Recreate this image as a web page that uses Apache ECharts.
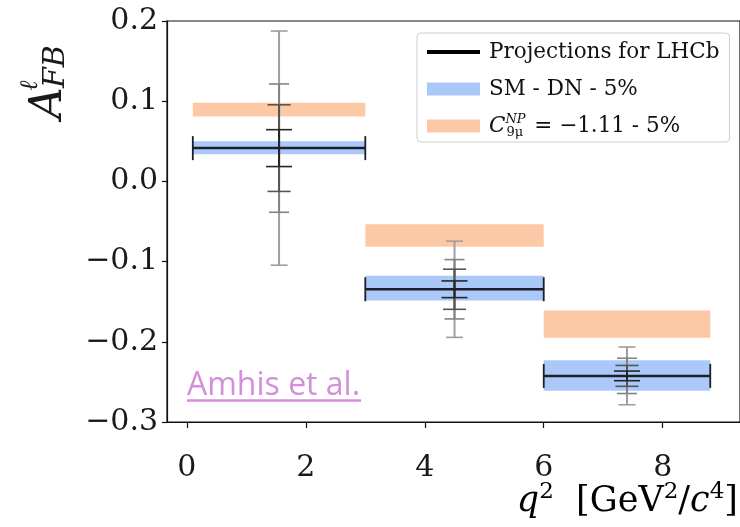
<!DOCTYPE html>
<html>
<head>
<meta charset="utf-8">
<script src="https://cdn.jsdelivr.net/npm/echarts@6/dist/echarts.min.js"></script>
<style>
  html, body { margin: 0; padding: 0; background: #fff; }
  #chart { width: 740px; height: 527px; }
</style>
</head>
<body>
<div id="chart"></div>
<script>
// q^2 bins [GeV^2/c^4]
const binLow = [0.1, 3.0, 6.0];
const binHigh = [3.0, 6.0, 8.8];

// SM (DN form factors) band: centre and half-width
const smCentre = [0.042, -0.133, -0.242];
const smHalf = [0.008, 0.0155, 0.019];

// New physics band, C9mu = -1.11: centre and half-width
const npCentre = [0.0895, -0.0675, -0.178];
const npHalf = [0.0085, 0.014, 0.017];

// LHCb projections: point position, central value and the
// uncertainties of four luminosity scenarios (largest first)
const projX = [1.55, 4.5, 7.4];
const projCentre = [0.0415, -0.1345, -0.2425];
const projErr1 = [0.146, 0.060, 0.036];
const projErr2 = [0.080, 0.037, 0.022];
const projErr3 = [0.054, 0.025, 0.013];
const projErr4 = [0.023, 0.0104, 0.006];

// axis ticks
const xTicks = [0, 2, 4, 6, 8];
const yTicks = [-0.3, -0.2, -0.1, 0.0, 0.1, 0.2];

const SERIF = 'DejaVu Serif';
const NAME_PROJ = 'Projections for LHCb';
const NAME_SM = 'SM - DN - 5%';
const NAME_NP = 'C9muNP = -1.11 - 5%';

const BLUE = '#aac8f8';
const ORANGE = '#fdc8a6';
const DARK = '#1c1e2a';
const errColors = ['#9e9e9e', '#838383', '#555555', '#262626'];
const capWidth = [17, 20, 23, 26];

function bandSeries(name, lo, hi, centre, half, color) {
  return {
    type: 'custom',
    name: name,
    z: 2,
    silent: true,
    itemStyle: { color: color },
    data: lo.map((l, i) => [l, hi[i], centre[i], half[i]]),
    encode: { x: [0, 1], y: [2] },
    renderItem: function (params, api) {
      const a = api.coord([api.value(0), api.value(2) + api.value(3)]);
      const b = api.coord([api.value(1), api.value(2) - api.value(3)]);
      return {
        type: 'rect',
        shape: { x: a[0], y: a[1], width: b[0] - a[0], height: b[1] - a[1] },
        style: { fill: color }
      };
    }
  };
}

const series = [
  bandSeries(NAME_SM, binLow, binHigh, smCentre, smHalf, BLUE),
  bandSeries(NAME_NP, binLow, binHigh, npCentre, npHalf, ORANGE),
  {
    // vertical error bars, outermost first so inner ones sit on top
    type: 'custom',
    name: 'proj-errors',
    z: 3,
    silent: true,
    data: projX.map((x, i) => [x, projCentre[i], projErr1[i], projErr2[i], projErr3[i], projErr4[i]]),
    encode: { x: 0, y: [1] },
    renderItem: function (params, api) {
      const x = api.value(0), c = api.value(1);
      const children = [];
      for (let k = 0; k < 4; k++) {
        const e = api.value(2 + k);
        const top = api.coord([x, c + e]);
        const bot = api.coord([x, c - e]);
        children.push({
          type: 'line',
          shape: { x1: top[0], y1: top[1], x2: bot[0], y2: bot[1] },
          style: { stroke: errColors[k], lineWidth: 2 }
        });
        [top, bot].forEach(p => children.push({
          type: 'line',
          shape: { x1: p[0] - capWidth[k] / 2, y1: p[1], x2: p[0] + capWidth[k] / 2, y2: p[1] },
          style: { stroke: errColors[k], lineWidth: 1.6 }
        }));
      }
      return { type: 'group', children: children };
    }
  },
  {
    // end caps of the horizontal bin bars
    type: 'custom',
    name: 'proj-caps',
    z: 4,
    silent: true,
    data: binLow.map((l, i) => [l, binHigh[i], projCentre[i]]),
    encode: { x: [0, 1], y: [2] },
    renderItem: function (params, api) {
      const a = api.coord([api.value(0), api.value(2)]);
      const b = api.coord([api.value(1), api.value(2)]);
      return {
        type: 'group',
        children: [a, b].map(p => ({
          type: 'line',
          shape: { x1: p[0], y1: p[1] - 12, x2: p[0], y2: p[1] + 12 },
          style: { stroke: DARK, lineWidth: 1.8 }
        }))
      };
    }
  }
];

// horizontal bin bars of the projections
binLow.forEach((l, i) => {
  series.push({
    type: 'line',
    name: NAME_PROJ,
    z: 4,
    silent: true,
    symbol: 'none',
    color: DARK,
    lineStyle: { color: DARK, width: 2.5 },
    data: [[l, projCentre[i]], [binHigh[i], projCentre[i]]]
  });
});

const chart = echarts.init(document.getElementById('chart'));
chart.setOption({
  animation: false,
  backgroundColor: '#ffffff',
  grid: {
    left: 167, top: 21, right: -4, bottom: 105,
    show: true, borderColor: '#111', borderWidth: 1.2, backgroundColor: 'transparent'
  },
  xAxis: {
    type: 'value',
    min: -0.334, max: 9.3,
    axisLine: { onZero: false, lineStyle: { color: '#111', width: 1.2 } },
    axisTick: { customValues: xTicks, length: 6, lineStyle: { color: '#111', width: 1.2 } },
    axisLabel: {
      customValues: xTicks, margin: 31,
      fontFamily: SERIF, fontSize: 30, color: '#1a1a1a',
      formatter: v => String(v)
    },
    splitLine: { show: false }
  },
  yAxis: {
    type: 'value',
    min: -0.3, max: 0.2,
    axisLine: { onZero: false, lineStyle: { color: '#111', width: 1.2 } },
    axisTick: { customValues: yTicks, length: 5, lineStyle: { color: '#111', width: 1.2 } },
    axisLabel: {
      customValues: yTicks, margin: 9,
      fontFamily: SERIF, fontSize: 30, color: '#1a1a1a',
      formatter: v => (v < -1e-9 ? '\u2212' : '') + Math.abs(v).toFixed(1)
    },
    splitLine: { show: false }
  },
  legend: {
    orient: 'vertical',
    left: 417, top: 33,
    padding: [6, 10, 3, 8],
    itemWidth: 53, itemHeight: 13, itemGap: 11,
    backgroundColor: 'rgba(255,255,255,0.85)',
    borderColor: '#cfcfcf', borderWidth: 1, borderRadius: 4,
    selectedMode: false,
    data: [
      { name: NAME_PROJ, lineStyle: { width: 4, color: '#000' }, itemStyle: { opacity: 0 } },
      { name: NAME_SM, icon: 'rect' },
      { name: NAME_NP, icon: 'rect' }
    ],
    textStyle: {
      fontFamily: SERIF, fontSize: 21.5, color: '#111', lineHeight: 26,
      padding: [0, 0, 0, 4],
      rich: {
        t: { fontFamily: SERIF, fontSize: 21.5, lineHeight: 26, color: '#111' },
        c: { fontFamily: SERIF, fontStyle: 'italic', fontSize: 21.5, lineHeight: 26, color: '#111' },
        sup: { fontFamily: SERIF, fontStyle: 'italic', fontSize: 13, lineHeight: 14, verticalAlign: 'top', width: 1, color: '#111' },
        sub: { fontFamily: SERIF, fontSize: 13, lineHeight: 14, verticalAlign: 'bottom', width: 21, color: '#111' }
      }
    },
    formatter: function (name) {
      if (name === NAME_NP) {
        return '{c|C}{sup|NP}{sub|9\u03bc}{t| = \u22121.11 - 5%}';
      }
      return '{t|' + name + '}';
    }
  },
  graphic: [
    {
      // y axis title: A^l_FB, reading bottom to top
      type: 'group',
      x: 63, y: 119,
      rotation: Math.PI / 2,
      children: [
        { type: 'text', x: 0, y: -13, style: { text: 'A', font: 'italic 44px "DejaVu Serif"', fill: '#1a1a1a', verticalAlign: 'middle' } },
        { type: 'text', x: 28, y: -33, style: { text: '\u2113', font: 'italic 25px "DejaVu Serif"', fill: '#1a1a1a', verticalAlign: 'middle' } },
        { type: 'text', x: 31, y: -7, style: { text: 'FB', font: 'italic 30px "DejaVu Serif"', fill: '#1a1a1a', verticalAlign: 'middle' } }
      ]
    },
    {
      // x axis title: q^2 [GeV^2/c^4]
      type: 'text',
      x: 738, y: 502,
      style: {
        text: '{i|q}{s|2}{r|  [GeV}{s|2}{r|/}{i|c}{s|4}{r|]}',
        align: 'right', verticalAlign: 'middle',
        rich: {
          i: { fontFamily: SERIF, fontStyle: 'italic', fontSize: 35, lineHeight: 42, color: '#1a1a1a' },
          r: { fontFamily: SERIF, fontSize: 35, lineHeight: 42, color: '#1a1a1a' },
          s: { fontFamily: SERIF, fontSize: 23, lineHeight: 23, verticalAlign: 'top', color: '#1a1a1a' }
        }
      }
    },
    {
      type: 'text',
      x: 187, y: 386,
      style: { text: 'Amhis et al.', font: '32px "Open Sans"', fill: '#d48fdc', verticalAlign: 'middle' }
    },
    {
      type: 'line',
      shape: { x1: 187, y1: 400.5, x2: 361, y2: 400.5 },
      style: { stroke: '#d48fdc', lineWidth: 2.5 }
    }
  ],
  series: series
});
</script>
</body>
</html>
